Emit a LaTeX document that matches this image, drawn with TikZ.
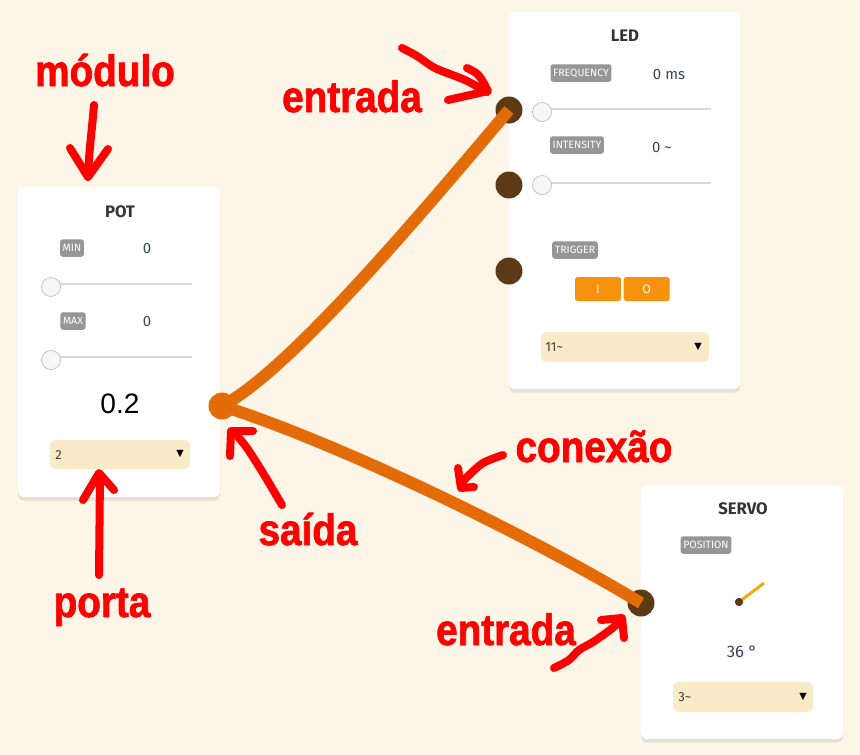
\documentclass[tikz,border=0pt]{standalone}
\usepackage{fontspec}
\setmainfont{Fira Sans}
\newfontfamily\annfont[FakeStretch=0.88, FakeBold=1.6]{Liberation Sans}
\newfontfamily\numfont{Liberation Sans}
\newfontfamily\symfont{DejaVu Sans}
\usetikzlibrary{positioning, shadows}

\definecolor{bgcream}{RGB}{253,245,231}
\definecolor{wireorange}{RGB}{227,108,9}
\definecolor{portbrown}{RGB}{92,58,22}
\definecolor{tagGray}{RGB}{150,150,150}
\definecolor{btnorange}{RGB}{246,146,14}
\definecolor{selcream}{RGB}{250,234,199}
\definecolor{valtext}{RGB}{52,70,90}
\definecolor{needle}{RGB}{240,170,20}
\definecolor{annred}{RGB}{255,0,0}

\begin{document}
\begin{tikzpicture}[x=0.02cm, y=-0.02cm,
  card/.style={fill=white, rounded corners=3pt,
    drop shadow={opacity=0.18, shadow xshift=0pt, shadow yshift=-2pt}},
  title/.style={font=\bfseries\fontsize{9.5}{10}\selectfont, text=black!80},
  tagbox/.style={fill=tagGray, text=white, rounded corners=1.5pt, inner xsep=1.5pt,
    inner ysep=0pt, minimum height=0.35cm, font=\fontsize{6}{6}\selectfont},
  val/.style={text=valtext, font=\fontsize{8.5}{9}\selectfont},
  track/.style={draw=black!15, line width=0.04cm},
  knob/.style={circle, draw=black!25, fill=black!3, minimum size=0.38cm, inner sep=0pt},
  port/.style={circle, fill=portbrown, minimum size=0.54cm, inner sep=0pt},
  outport/.style={port, fill=wireorange},
  wire/.style={draw=wireorange, line width=0.24cm},
  select/.style={fill=selcream, rounded corners=3pt},
  seltext/.style={text=black!75, font=\fontsize{7.5}{8}\selectfont, anchor=west, inner sep=0pt},
  caret/.style={font=\symfont\fontsize{5.5}{6}\selectfont, inner sep=0pt},
  btn/.style={fill=btnorange, rounded corners=1.5pt, text=white,
    font=\fontsize{7}{7}\selectfont, minimum width=0.92cm, minimum height=0.48cm, inner sep=0pt},
  note/.style={text=annred, font=\annfont\bfseries\fontsize{25}{25}\selectfont,
    inner sep=0pt, anchor=base},
  hand/.style={draw=annred, line width=0.16cm, line cap=round, line join=round}]

\fill[bgcream] (0,0) rectangle (860,755);
\useasboundingbox (0,0) rectangle (860,755);

% POT module
\fill[card] (18,187) rectangle (220,497);
\node[title] (pottitle) at (120,212) {POT};
\node[tagbox] (potmin) at (72,248) {MIN};
\node[val] (potminval) at (147,249) {0};
\draw[track] (51,284) -- (192,284);
\node[knob] (potknobmin) at (51,287) {};
\node[tagbox] (potmax) at (73,321) {MAX};
\node[val] (potmaxval) at (147,322) {0};
\draw[track] (51,357) -- (192,357);
\node[knob] (potknobmax) at (51,360) {};
\node[font=\numfont\fontsize{16}{16}\selectfont] (potvalue) at (120,404) {0.2};
\fill[select] (50,440) rectangle (190,469);
\node[seltext] (potport) at (55,455) {2};
\node[caret] (potcaret) at (180,454) {▼};
\node[outport] (potout) at (222,406) {};

% LED module
\fill[card] (509,12) rectangle (740,389);
\node[title] (ledtitle) at (625,36) {LED};
\node[tagbox] (ledfreqtag) at (581,73) {FREQUENCY};
\node[val] (ledfreqval) at (669,75) {0 ms};
\draw[track] (543,109) -- (711,109);
\node[knob] (ledknobfreq) at (542,112) {};
\node[tagbox] (ledinttag) at (577,145) {INTENSITY};
\node[val] (ledintval) at (662,148) {0 \textasciitilde};
\draw[track] (543,183) -- (711,183);
\node[knob] (ledknobint) at (542,185) {};
\node[tagbox] (ledtrigtag) at (575,250) {TRIGGER};
\node[btn] (ledon) at (598,289) {I};
\node[btn, right=0.04cm of ledon] (ledoff) {O};
\fill[select] (541,332) rectangle (709,362);
\node[seltext] (ledport) at (545,347) {11\textasciitilde};
\node[caret] (ledcaret) at (698,347) {▼};
\node[port] (ledfreq) at (509,110) {};
\node[port] (ledint) at (509,185) {};
\node[port] (ledtrig) at (509,271) {};

% SERVO module
\fill[card] (641,485) rectangle (843,739);
\node[title] (servotitle) at (743,509) {SERVO};
\node[tagbox] (servopostag) at (706,545) {POSITION};
\coordinate (dialtip) at (764,583);
\node[circle, fill=portbrown, minimum size=0.16cm, inner sep=0pt] (dial) at (739,602) {};
\draw[needle, line width=0.06cm] (dial.center) -- (dialtip);
\fill[portbrown] (dial.center) circle (4);
\node[val, font=\fontsize{9.5}{10}\selectfont] (servoval) at (742,652) {36 °};
\fill[select] (673,682) rectangle (813,712);
\node[seltext] (servoport) at (678,697) {3\textasciitilde};
\node[caret] (servocaret) at (803,697) {▼};
\node[port] (servoin) at (641,603) {};

% connections
\draw[wire] (potout.center) .. controls (290,370) and (420,215) .. (ledfreq.center);
\draw[wire] (potout.center) .. controls (330,440) and (520,530) .. (servoin.center);
\fill[wireorange] (potout) circle (13);

% notes
\node[note] (lblmodulo) at (105,86) {módulo};
\node[note] (lblentrada) at (352,112) {entrada};
\node[note] (lblsaida) at (308,545) {saída};
\node[note] (lblconexao) at (594,462) {conexão};
\node[note] (lblporta) at (102,617) {porta};
\node[note] (lblentradaservo) at (506,645) {entrada};

\draw[hand] (94,105) .. controls (92,130) and (89,150) .. (88,177);
\draw[hand] (70,148) -- (88,177) -- (108,149);
\draw[hand] plot[smooth] coordinates {(402,48) (417,56) (435,68) (465,80) (487,92)};
\draw[hand] (467,68) .. controls (479,74) .. (488,91) -- (448,100);
\draw[hand] plot[smooth] coordinates {(282,505) (263,473) (247,448) (238,437)};
\draw[hand] (230,456) -- (231,431) -- (253,431);
\draw[hand] plot[smooth] coordinates {(503,455) (483,463) (467,477) (462,483)};
\draw[hand] (458,468) -- (461,488) -- (474,487);
\draw[hand] (99,575) -- (100,475);
\draw[hand] (83,500) -- (99,473) -- (114,490);
\draw[hand] plot[smooth] coordinates {(554,668) (569,660) (579,650) (593,642) (610,630) (622,620)};
\draw[hand] (601,620) -- (622,618) -- (624,638);
\end{tikzpicture}
\end{document}
